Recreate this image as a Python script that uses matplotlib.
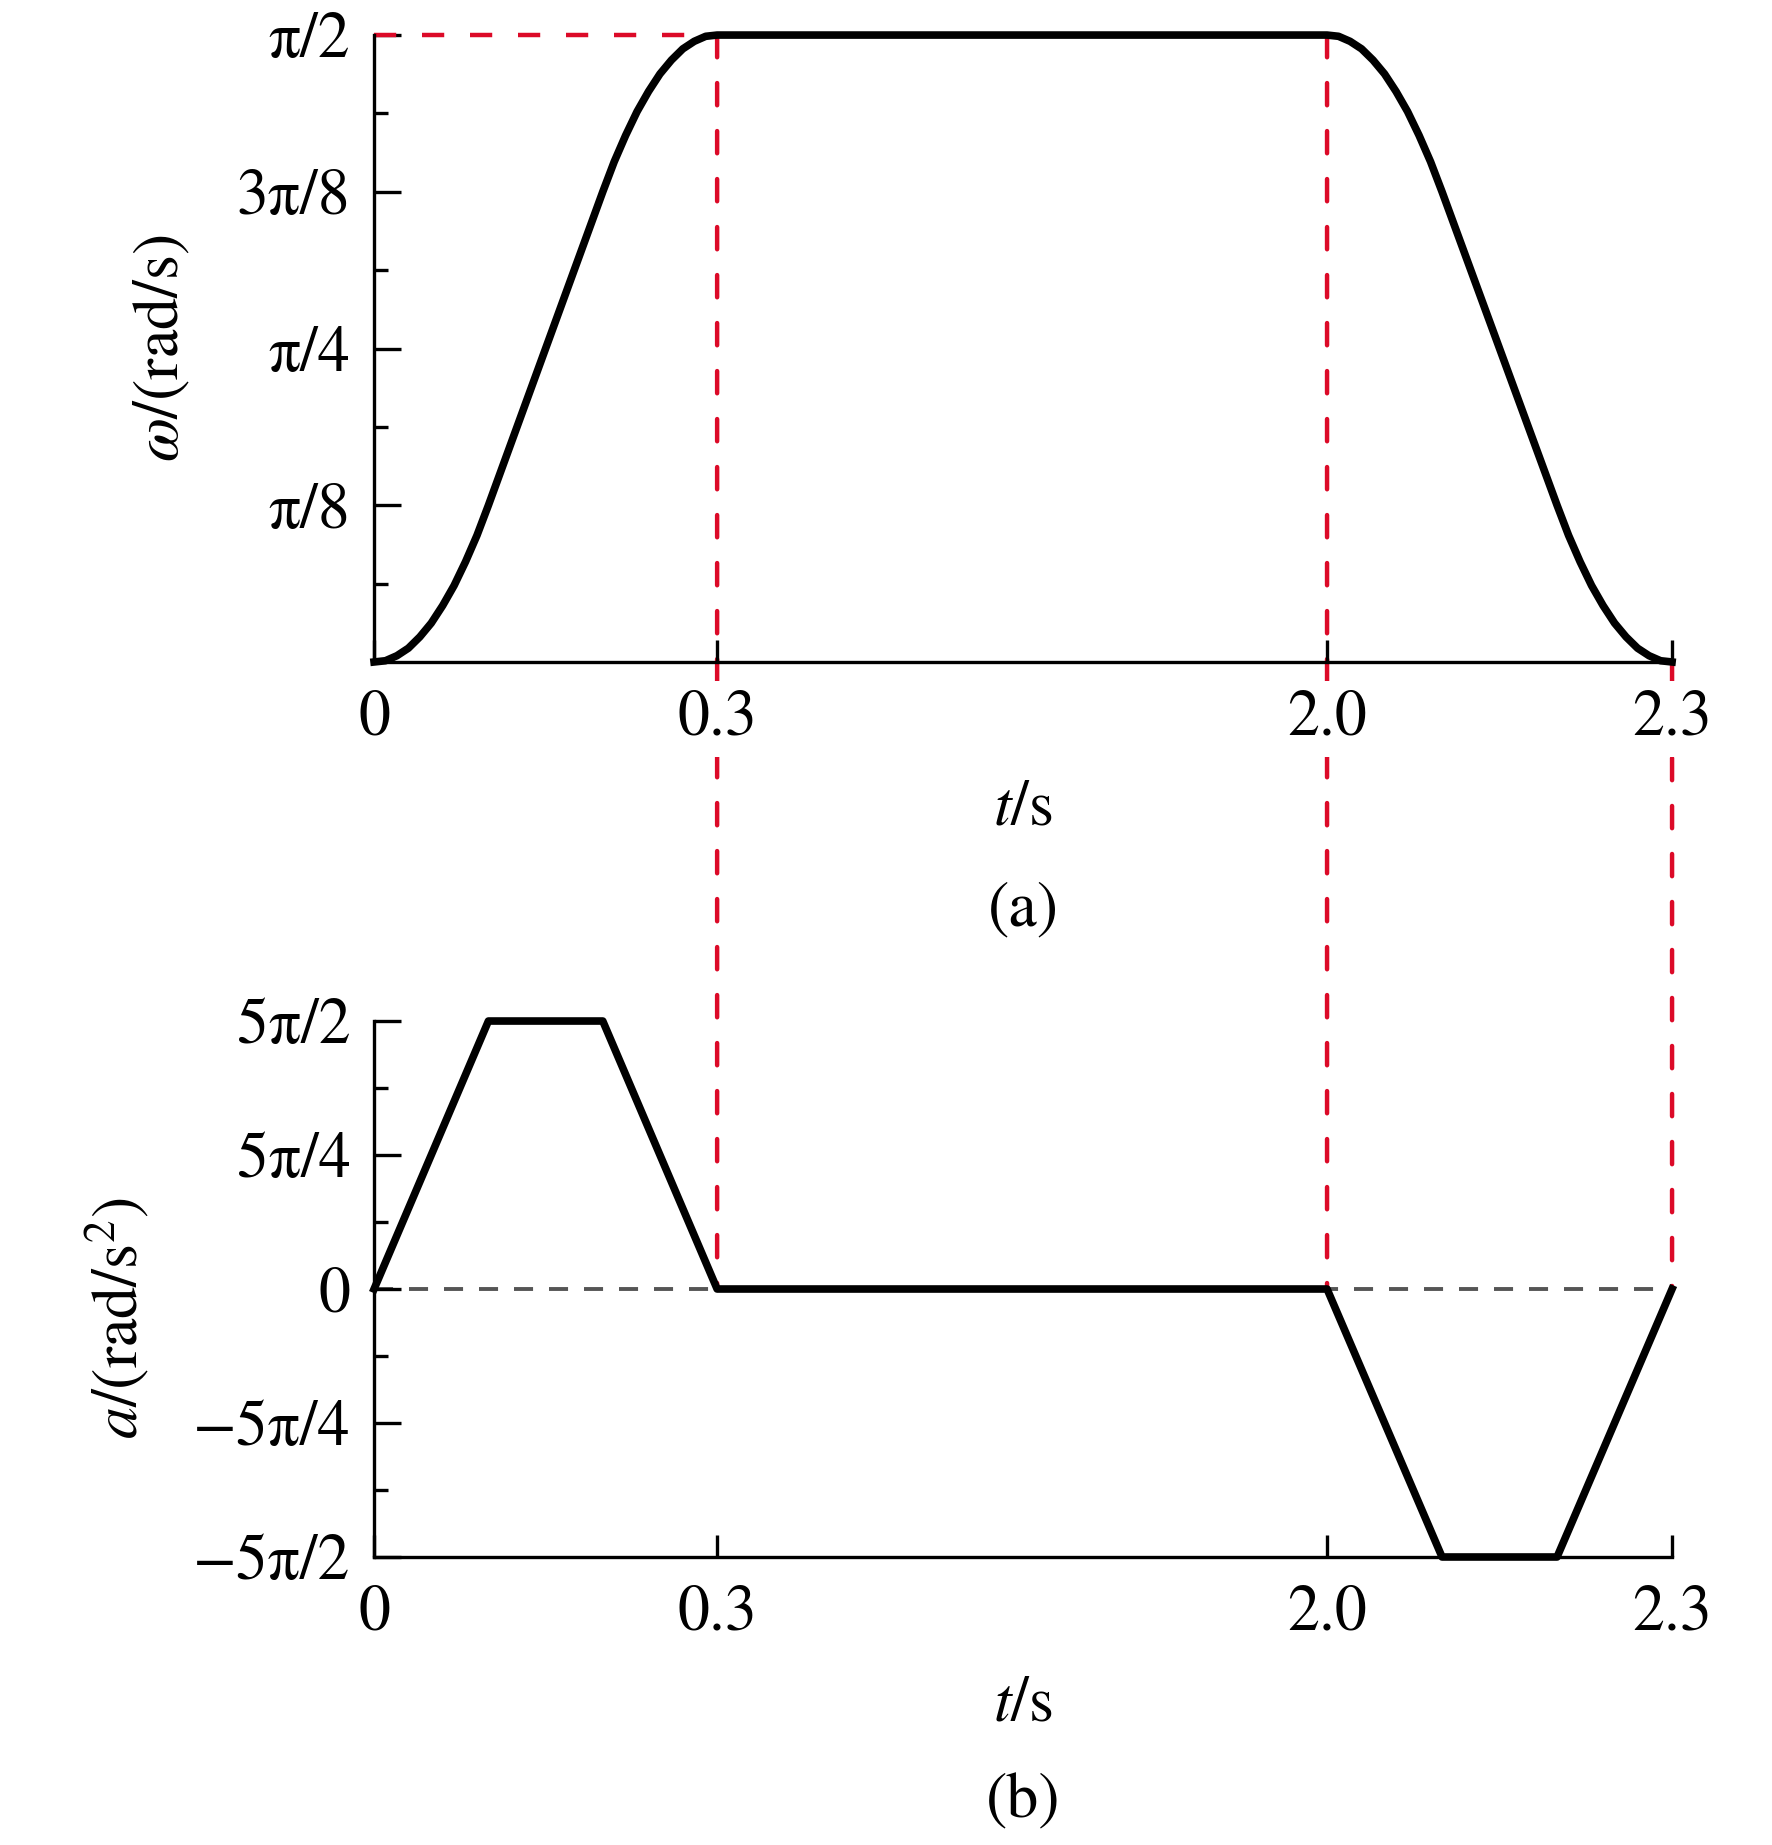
import numpy as np
import matplotlib.pyplot as plt
from matplotlib.patches import ConnectionPatch

plt.rcParams['font.family'] = ['STIXGeneral', 'Liberation Serif', 'DejaVu Serif']
plt.rcParams['mathtext.fontset'] = 'stix'
plt.rcParams['font.size'] = 46

# datos (velocidad en unidades de pi rad/s)
t_rise = [0.00, 0.01, 0.02, 0.03, 0.04, 0.05, 0.06, 0.07, 0.08, 0.09, 0.10,
          0.20, 0.21, 0.22, 0.23, 0.24, 0.25, 0.26, 0.27, 0.28, 0.29, 0.30]
w_rise = [0.000, 0.001, 0.005, 0.011, 0.020, 0.031, 0.045, 0.061, 0.080, 0.101, 0.125,
          0.375, 0.399, 0.420, 0.439, 0.455, 0.469, 0.480, 0.489, 0.495, 0.499, 0.500]
t_fall = [2.00, 2.01, 2.02, 2.03, 2.04, 2.05, 2.06, 2.07, 2.08, 2.09, 2.10,
          2.20, 2.21, 2.22, 2.23, 2.24, 2.25, 2.26, 2.27, 2.28, 2.29, 2.30]
w_fall = [0.500, 0.499, 0.495, 0.489, 0.480, 0.469, 0.455, 0.439, 0.420, 0.399, 0.375,
          0.125, 0.101, 0.080, 0.061, 0.045, 0.031, 0.020, 0.011, 0.005, 0.001, 0.000]

# aceleracion en unidades de pi rad/s^2
t_acc = [0.0, 0.1, 0.2, 0.3, 2.0, 2.1, 2.2, 2.3]
a_acc = [0.0, 2.5, 2.5, 0.0, 0.0, -2.5, -2.5, 0.0]

x_ticks = [0, 0.3, 2.0, 2.3]
x_labels = ['0', '0.3', '2.0', '2.3']
w_ticks = [1/8, 1/4, 3/8, 1/2]
w_labels = ['π/8', 'π/4', '3π/8', 'π/2']
a_ticks = [-5/2, -5/4, 0, 5/4, 5/2]
a_labels = ['−5π/2', '−5π/4', '0', '5π/4', '5π/2']

t_w = np.array(t_rise + t_fall)
w = np.array(w_rise + w_fall) * np.pi
a = np.array(a_acc) * np.pi

# eje x por tramos (0-0.3, 0.3-2.0, 2.0-2.3)
brk = [0, 0.3, 2.0, 2.3]
pos = [0, 0.2643, 0.7342, 1.0]
fwd = lambda v: np.interp(v, brk, pos)
inv = lambda v: np.interp(v, pos, brk)

red = '#dc0a28'
red_lw = 3.2
red_ls = (0, (5.0, 5.8))

fig = plt.figure(figsize=(17.72, 18.45), dpi=100)
ax1 = fig.add_axes([0.2111, 0.6412, 0.7325, 0.3398])
ax2 = fig.add_axes([0.2111, 0.1561, 0.7325, 0.2905])

for ax in (ax1, ax2):
    ax.set_facecolor('none')
    ax.set_xscale('function', functions=(fwd, inv))
    ax.set_xlim(0, 2.3)
    ax.set_xticks(x_ticks)
    ax.set_xticklabels(x_labels)
    ax.xaxis.set_minor_locator(plt.NullLocator())
    for s in ('top', 'right'):
        ax.spines[s].set_visible(False)
    for s in ('left', 'bottom'):
        ax.spines[s].set_linewidth(2.4)
    ax.tick_params(axis='x', direction='in', length=16, width=2.4, pad=20)
    ax.tick_params(axis='y', which='major', direction='in', length=19.5, width=2.4, pad=17)
    ax.tick_params(axis='y', which='minor', direction='in', length=10, width=2.4)

# (a) velocidad
ax1.plot(t_w, w, color='black', lw=5.5, clip_on=False, zorder=5)
ax1.plot([0, 0.3], [np.pi/2, np.pi/2], color=red, lw=red_lw, ls=red_ls, clip_on=False)
ax1.set_ylim(0, np.pi/2)
ax1.set_yticks(np.array(w_ticks) * np.pi)
ax1.set_yticklabels(w_labels)
ax1.set_yticks(np.array([1/16, 3/16, 5/16, 7/16]) * np.pi, minor=True)
ax1.set_ylabel(r'$\omega$/(rad/s)')
ax1.yaxis.label.set_va('center')
ax1.yaxis.set_label_coords(-0.163, 0.5)
ax1.set_xlabel(r'$t$/s')
ax1.xaxis.label.set_va('center')
ax1.xaxis.set_label_coords(0.5, -0.234)
ax1.text(0.5, -0.3955, '(a)', transform=ax1.transAxes, ha='center', va='center')
for lab in ax1.get_xticklabels():
    lab.set_bbox(dict(facecolor='white', edgecolor='none', pad=6))

# (b) aceleracion
ax2.axhline(0, color='#555555', lw=2.8, ls=(0, (4.9, 4.1)), zorder=1)
ax2.plot(t_acc, a, color='black', lw=5.5, clip_on=False, zorder=5)
ax2.set_ylim(-5*np.pi/2, 5*np.pi/2)
ax2.set_yticks(np.array(a_ticks) * np.pi)
ax2.set_yticklabels(a_labels)
ax2.set_yticks(np.array([-15/8, -5/8, 5/8, 15/8]) * np.pi, minor=True)
ax2.set_ylabel(r'$a$/(rad/s$^2$)')
ax2.yaxis.label.set_va('center')
ax2.yaxis.set_label_coords(-0.198, 0.446)
ax2.set_xlabel(r'$t$/s')
ax2.xaxis.label.set_va('center')
ax2.xaxis.set_label_coords(0.5, -0.276)
ax2.text(0.5, -0.457, '(b)', transform=ax2.transAxes, ha='center', va='center')

# lineas rojas que unen las dos graficas
for tx, w0 in [(0.3, np.pi/2), (2.0, np.pi/2), (2.3, 0)]:
    con = ConnectionPatch(xyA=(tx, w0), coordsA=ax1.transData,
                          xyB=(tx, 0), coordsB=ax2.transData,
                          color=red, lw=red_lw, ls=red_ls, zorder=-1)
    fig.add_artist(con)

fig.savefig('out.png', dpi=100, facecolor='white')
